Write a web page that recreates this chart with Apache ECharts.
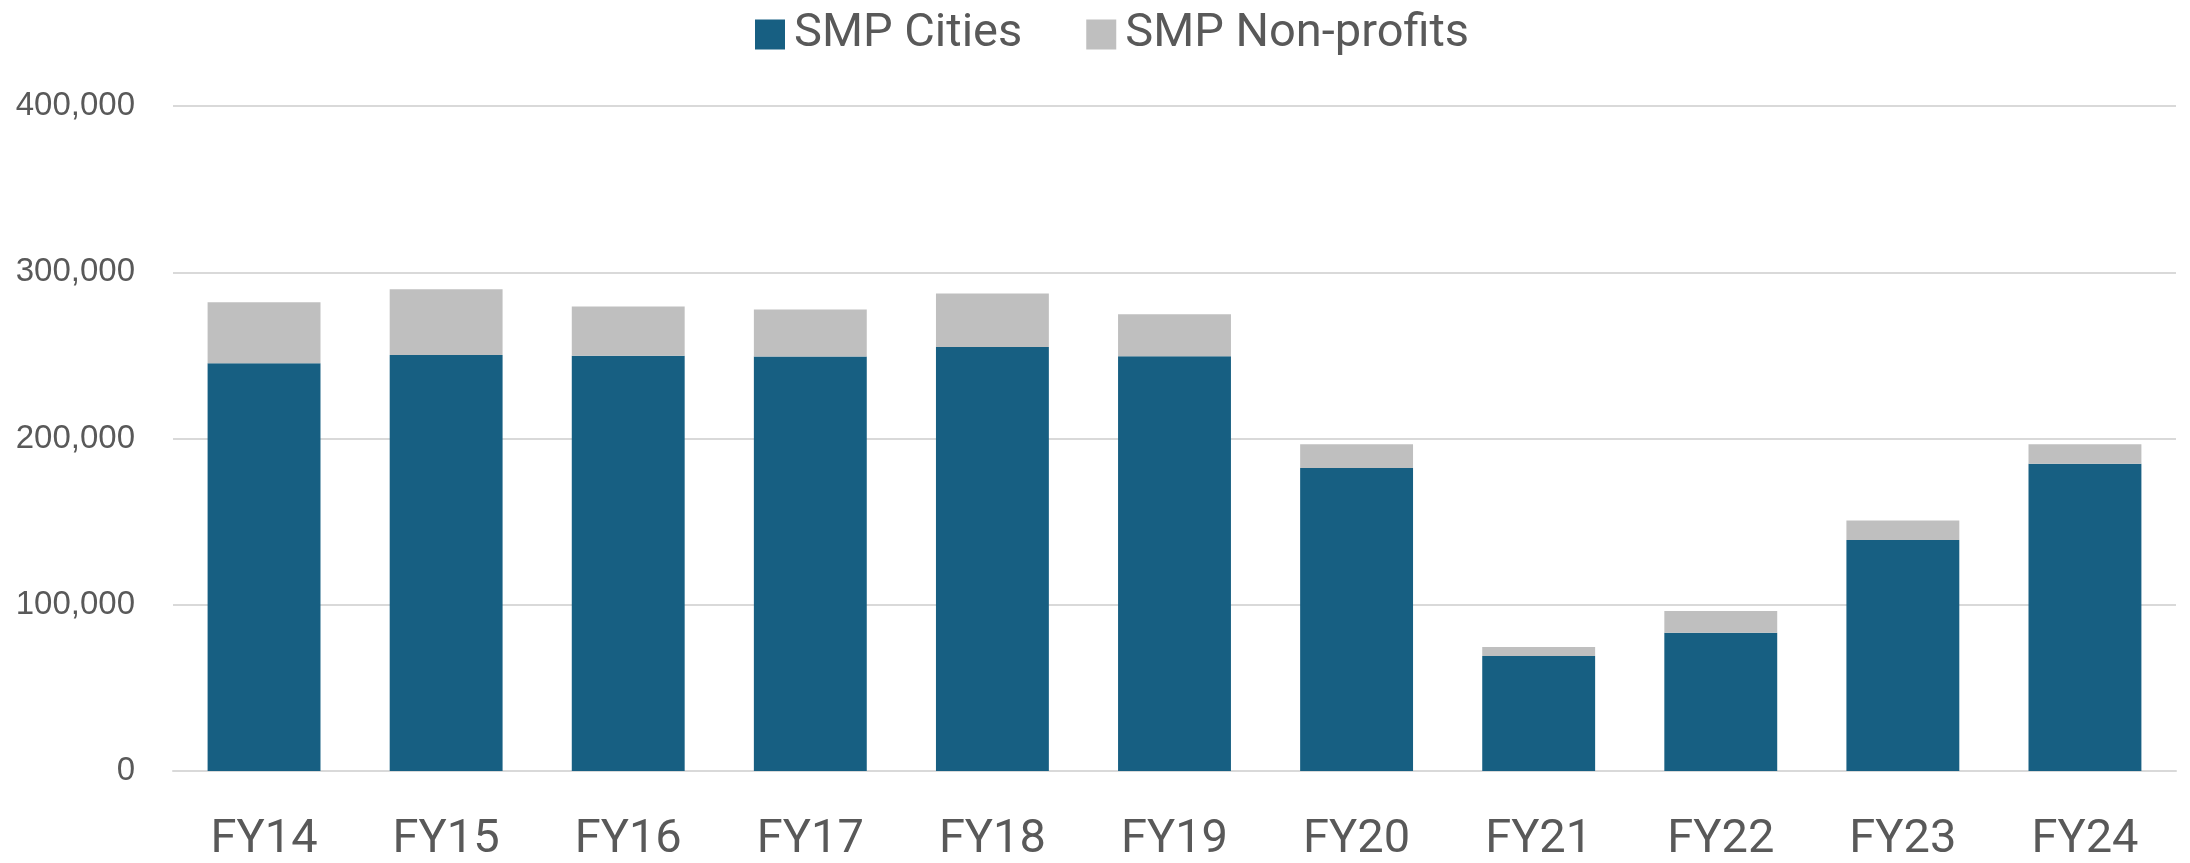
<!DOCTYPE html>
<html>
<head>
<meta charset="utf-8">
<script src="https://cdn.jsdelivr.net/npm/echarts@6/dist/echarts.min.js"></script>
<style>
  html, body { margin: 0; padding: 0; background: #fff; }
  #chart { width: 2190px; height: 863px; }
</style>
</head>
<body>
<div id="chart"></div>
<script>
// data
const categories = ['FY14', 'FY15', 'FY16', 'FY17', 'FY18', 'FY19', 'FY20', 'FY21', 'FY22', 'FY23', 'FY24'];
const smpCities = [245300, 250300, 249700, 249300, 255100, 249500, 182200, 69200, 83200, 138900, 184800];
const smpNonProfits = [36700, 39500, 29700, 28300, 32100, 25300, 14400, 5400, 13000, 11800, 11800];
const yTicks = [0, 100000, 200000, 300000, 400000];

const chart = echarts.init(document.getElementById('chart'));

chart.setOption({
  animation: false,
  legend: {
    top: 6,
    left: 750,
    itemWidth: 30,
    itemHeight: 30,
    itemGap: 64,
    icon: 'rect',
    textStyle: { fontFamily: 'Roboto', fontSize: 47, color: '#595959', padding: [0, 0, 0, 4] },
    data: ['SMP Cities', 'SMP Non-profits']
  },
  grid: { left: 173, right: 14, top: 106, bottom: 92, outerBoundsMode: 'none' },
  xAxis: {
    type: 'category',
    data: categories,
    axisLine: { lineStyle: { color: '#D9D9D9', width: 2 } },
    axisTick: { show: false },
    axisLabel: { fontFamily: 'Roboto', fontSize: 47, color: '#595959', margin: 46 }
  },
  yAxis: {
    type: 'value',
    min: yTicks[0],
    max: yTicks[yTicks.length - 1],
    interval: 100000,
    axisLine: { show: false },
    axisTick: { show: false },
    splitLine: { lineStyle: { color: '#D9D9D9', width: 2 } },
    axisLabel: {
      fontFamily: 'Liberation Sans',
      fontSize: 33,
      color: '#595959',
      margin: 38,
      formatter: v => v.toLocaleString('en-US')
    }
  },
  series: [
    {
      name: 'SMP Cities',
      type: 'bar',
      stack: 'total',
      data: smpCities,
      barWidth: '62%',
      itemStyle: { color: '#175F82' }
    },
    {
      name: 'SMP Non-profits',
      type: 'bar',
      stack: 'total',
      data: smpNonProfits,
      barWidth: '62%',
      itemStyle: { color: '#BFBFBF' }
    }
  ]
});
</script>
</body>
</html>
